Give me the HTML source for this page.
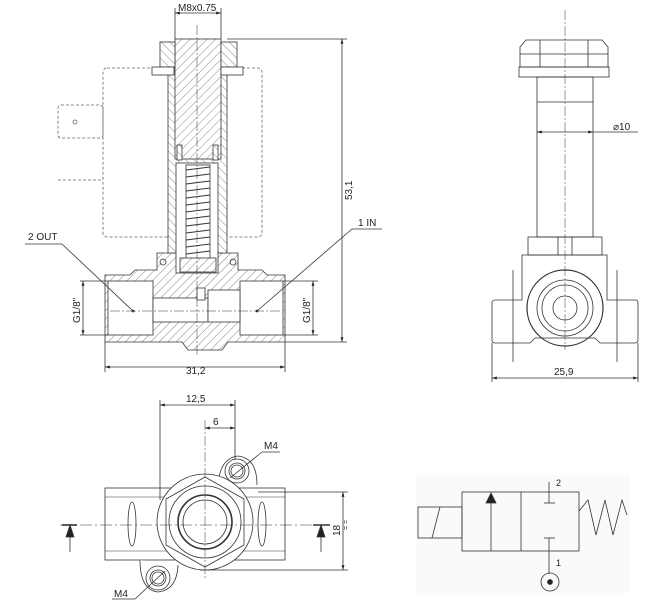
<!DOCTYPE html>
<html><head><meta charset="utf-8"><style>
html,body{margin:0;padding:0;background:#fff;}
svg{display:block;font-family:"Liberation Sans",sans-serif;}
</style></head><body>
<svg width="657" height="610" viewBox="0 0 657 610" xmlns="http://www.w3.org/2000/svg">
<defs>
<pattern id="h" width="6" height="6" patternUnits="userSpaceOnUse" patternTransform="rotate(45)">
<rect width="6" height="6" fill="#fff"/><line x1="0" y1="0" x2="0" y2="6" stroke="#555" stroke-width="0.7"/></pattern>
<pattern id="h2" width="6" height="6" patternUnits="userSpaceOnUse" patternTransform="rotate(-45)">
<rect width="6" height="6" fill="#fff"/><line x1="0" y1="0" x2="0" y2="6" stroke="#555" stroke-width="0.7"/></pattern>
<marker id="a" viewBox="0 0 10 10" refX="10" refY="5" markerWidth="6" markerHeight="6" orient="auto-start-reverse"><path d="M0,2 L10,5 L0,8 z" fill="#222"/></marker>
</defs>
<g stroke="#333" stroke-width="0.8" fill="none">
<!-- FRONT SECTION VIEW -->
<!-- coil dashed -->
<rect x="103" y="68" width="159" height="169" rx="4" stroke-dasharray="3,2" stroke="#666"/>
<rect x="58" y="105" width="45" height="33" rx="3" stroke-dasharray="3,2" stroke="#666"/>
<circle cx="75" cy="122" r="2" stroke="#666"/>
<line x1="58" y1="180" x2="103" y2="180" stroke-dasharray="3,2" stroke="#666"/>
<!-- body -->
<path d="M105,275 L130,275 L135,270 L157,270 L157,253 L238,253 L238,270 L262,270 L267,275 L285,275 L285,342 L228,342 L222,350 L188,350 L182,342 L105,342 Z" fill="url(#h)"/>
<rect x="108" y="281" width="45" height="54" fill="#fff"/>
<rect x="240" y="281" width="43" height="54" fill="#fff"/>
<rect x="153" y="298" width="55" height="24" fill="#fff"/>
<rect x="208" y="290" width="32" height="32" fill="#fff"/>
<!-- stem -->
<rect x="168" y="68" width="59" height="185" fill="url(#h2)"/>
<rect x="175" y="39" width="46" height="120" fill="url(#h)"/>
<rect x="160" y="42" width="15" height="25" fill="url(#h2)"/>
<rect x="221" y="42" width="16" height="25" fill="url(#h2)"/>
<rect x="152" y="67" width="22" height="8" fill="#fff"/>
<rect x="221" y="67" width="22" height="8" fill="#fff"/>
<rect x="176" y="163" width="42" height="110" fill="#fff"/>
<rect x="186" y="165" width="24" height="105" fill="#fff"/>
<g stroke-width="0.9">
<path d="M186,170 L210,167 M186,177 L210,174 M186,184 L210,181 M186,191 L210,188 M186,198 L210,195 M186,205 L210,202 M186,212 L210,209 M186,219 L210,216 M186,226 L210,223 M186,233 L210,230 M186,240 L210,237 M186,247 L210,244 M186,254 L210,251"/>
</g>
<rect x="180" y="258" width="36" height="14" fill="url(#h)"/>
<rect x="177" y="145" width="5" height="15" fill="url(#h2)"/>
<rect x="213" y="145" width="5" height="15" fill="url(#h2)"/>
<circle cx="163" cy="262" r="3"/><circle cx="233" cy="262" r="3"/>
<rect x="197" y="288" width="8" height="12" fill="#fff"/>
<!-- centre lines -->
<line x1="197" y1="25" x2="197" y2="355" stroke-dasharray="10,2,2,2" stroke-width="0.5"/>
<line x1="110" y1="311" x2="282" y2="311" stroke-dasharray="10,2,2,2" stroke-width="0.5"/>
<!-- dims -->
<line x1="175" y1="39" x2="175" y2="8"/><line x1="221" y1="39" x2="221" y2="8"/>
<line x1="175" y1="13" x2="221" y2="13" marker-start="url(#a)" marker-end="url(#a)"/>
<line x1="227" y1="39" x2="347" y2="39"/><line x1="285" y1="342" x2="347" y2="342"/>
<line x1="342" y1="39" x2="342" y2="342" marker-start="url(#a)" marker-end="url(#a)"/>
<line x1="105" y1="342" x2="105" y2="372"/><line x1="285" y1="342" x2="285" y2="372"/>
<line x1="105" y1="367" x2="285" y2="367" marker-start="url(#a)" marker-end="url(#a)"/>
<line x1="80" y1="281" x2="108" y2="281"/><line x1="80" y1="335" x2="108" y2="335"/>
<line x1="83" y1="281" x2="83" y2="335" marker-start="url(#a)" marker-end="url(#a)"/>
<line x1="283" y1="281" x2="318" y2="281"/><line x1="283" y1="335" x2="318" y2="335"/>
<line x1="313" y1="281" x2="313" y2="335" marker-start="url(#a)" marker-end="url(#a)"/>
<line x1="25" y1="244" x2="62" y2="244"/><line x1="62" y1="244" x2="133" y2="311"/>
<line x1="352" y1="229" x2="382" y2="229"/><line x1="352" y1="229" x2="257" y2="311"/>
<circle cx="133" cy="311" r="1" fill="#333"/><circle cx="257" cy="311" r="1" fill="#333"/>

<!-- SIDE VIEW -->
<path d="M526,40 L602,40 L608,47 L608,67 L520,67 L520,47 Z"/>
<line x1="520" y1="54" x2="608" y2="54"/><line x1="540" y1="40" x2="540" y2="67"/><line x1="588" y1="40" x2="588" y2="67"/>
<rect x="519" y="67" width="90" height="10"/>
<rect x="537" y="77" width="56" height="160"/>
<line x1="537" y1="102" x2="593" y2="102"/>
<rect x="528" y="237" width="74" height="18"/>
<line x1="558" y1="237" x2="558" y2="255"/><line x1="572" y1="237" x2="572" y2="255"/>
<path d="M522,255 L607,255 L607,300 L636,300 Q638,300 638,303 L638,340 Q638,343 635,343 L600,343 L595,338 L535,338 L530,343 L495,343 Q492,343 492,340 L492,303 Q492,300 495,300 L522,300 Z"/>
<circle cx="565" cy="308" r="38" stroke-width="1.2"/>
<circle cx="565" cy="308" r="28"/><circle cx="565" cy="308" r="23"/><circle cx="565" cy="308" r="12"/>
<line x1="565" y1="10" x2="565" y2="350" stroke-dasharray="10,2,2,2" stroke-width="0.5"/>
<line x1="537" y1="132" x2="593" y2="132" marker-start="url(#a)" marker-end="url(#a)"/>
<line x1="593" y1="132" x2="638" y2="132"/>
<line x1="492" y1="343" x2="492" y2="382"/><line x1="638" y1="343" x2="638" y2="382"/>
<line x1="492" y1="378" x2="638" y2="378" marker-start="url(#a)" marker-end="url(#a)"/>
<line x1="513" y1="270" x2="513" y2="362"/><line x1="617" y1="270" x2="617" y2="362"/>

<!-- BOTTOM VIEW -->
<rect x="105" y="488" width="180" height="72"/>
<line x1="105" y1="497" x2="285" y2="497" stroke-width="0.5"/><line x1="105" y1="551" x2="285" y2="551" stroke-width="0.5"/>
<ellipse cx="132" cy="524" rx="4" ry="22"/><ellipse cx="262" cy="524" rx="4" ry="22"/>
<path d="M218,485 Q220,458 238,456 Q257,458 257,485" fill="#fff"/>
<circle cx="237" cy="471" r="12"/><circle cx="237" cy="471" r="8"/><circle cx="237" cy="471" r="6"/>
<path d="M140,560 Q140,590 158,592 Q177,590 178,565" fill="#fff"/>
<circle cx="158" cy="578" r="12"/><circle cx="158" cy="578" r="8"/><circle cx="158" cy="578" r="6"/>
<circle cx="205" cy="522" r="48" fill="#fff"/>
<path d="M205,477 L244,499 L244,545 L205,567 L166,545 L166,499 Z"/>
<circle cx="205" cy="522" r="36"/>
<circle cx="205" cy="522" r="27" stroke-width="1.6"/>
<circle cx="205" cy="522" r="22"/>
<line x1="60" y1="525" x2="330" y2="525" stroke-dasharray="12,3,2,3" stroke-width="0.6"/>
<line x1="205" y1="420" x2="205" y2="578" stroke-dasharray="10,2,2,2" stroke-width="0.5"/>
<line x1="160" y1="400" x2="160" y2="500"/><line x1="235" y1="400" x2="235" y2="460"/>
<line x1="160" y1="405" x2="235" y2="405" marker-start="url(#a)" marker-end="url(#a)"/>
<line x1="205" y1="428" x2="235" y2="428" marker-start="url(#a)" marker-end="url(#a)"/>
<line x1="62" y1="525" x2="77" y2="525" stroke-width="1.6"/>
<line x1="70" y1="525" x2="70" y2="552"/><path d="M66,537 L70,525 L74,537 Z" fill="#222"/>
<line x1="313" y1="525" x2="330" y2="525" stroke-width="1.6"/>
<line x1="321" y1="525" x2="321" y2="552"/><path d="M317,537 L321,525 L325,537 Z" fill="#222"/>
<line x1="258" y1="492" x2="348" y2="492"/><line x1="200" y1="570" x2="348" y2="570"/>
<line x1="343" y1="492" x2="343" y2="570" marker-start="url(#a)" marker-end="url(#a)"/>
<line x1="230" y1="478" x2="262" y2="452"/><line x1="262" y1="452" x2="280" y2="452"/>
<line x1="165" y1="571" x2="135" y2="599"/><line x1="112" y1="599" x2="135" y2="599"/>

<!-- SYMBOL -->
<rect x="416" y="475" width="214" height="118" fill="#fafafa" stroke="none"/>
<rect x="462" y="492" width="117" height="59"/>
<line x1="521" y1="492" x2="521" y2="551"/>
<rect x="418" y="507" width="44" height="31"/>
<line x1="440" y1="507" x2="432" y2="538"/>
<line x1="491" y1="551" x2="491" y2="500"/>
<path d="M486,503 L491,493 L496,503 Z" fill="#222"/>
<line x1="549" y1="482" x2="549" y2="503"/><line x1="544" y1="503" x2="555" y2="503"/>
<line x1="544" y1="538" x2="555" y2="538"/><line x1="549" y1="538" x2="549" y2="574"/>
<circle cx="550" cy="582" r="9"/><circle cx="550" cy="582" r="2.5" fill="#222"/>
<polyline points="579,511 588,500 596,535 605,500 613,535 622,500 627,515"/>
</g>
<g fill="#222" font-size="10">
<text x="178" y="11">M8x0.75</text>
<text x="28" y="240">2 OUT</text>
<text x="358" y="226">1 IN</text>
<text x="186" y="374">31,2</text>
<text transform="translate(352,200) rotate(-90)">53,1</text>
<text transform="translate(80,323) rotate(-90)">G1/8"</text>
<text transform="translate(310,323) rotate(-90)">G1/8"</text>
<text x="613" y="130">⌀10</text>
<text x="554" y="375">25,9</text>
<text x="186" y="402">12,5</text>
<text x="213" y="425">6</text>
<text x="264" y="449">M4</text>
<text x="114" y="597">M4</text>
<text transform="translate(340,536) rotate(-90)">18</text>
<text transform="translate(348,530) rotate(-90)" font-size="7">= =</text>
<text x="556" y="486" font-size="9">2</text>
<text x="556" y="566" font-size="9">1</text>
</g>
</svg>
</body></html>
